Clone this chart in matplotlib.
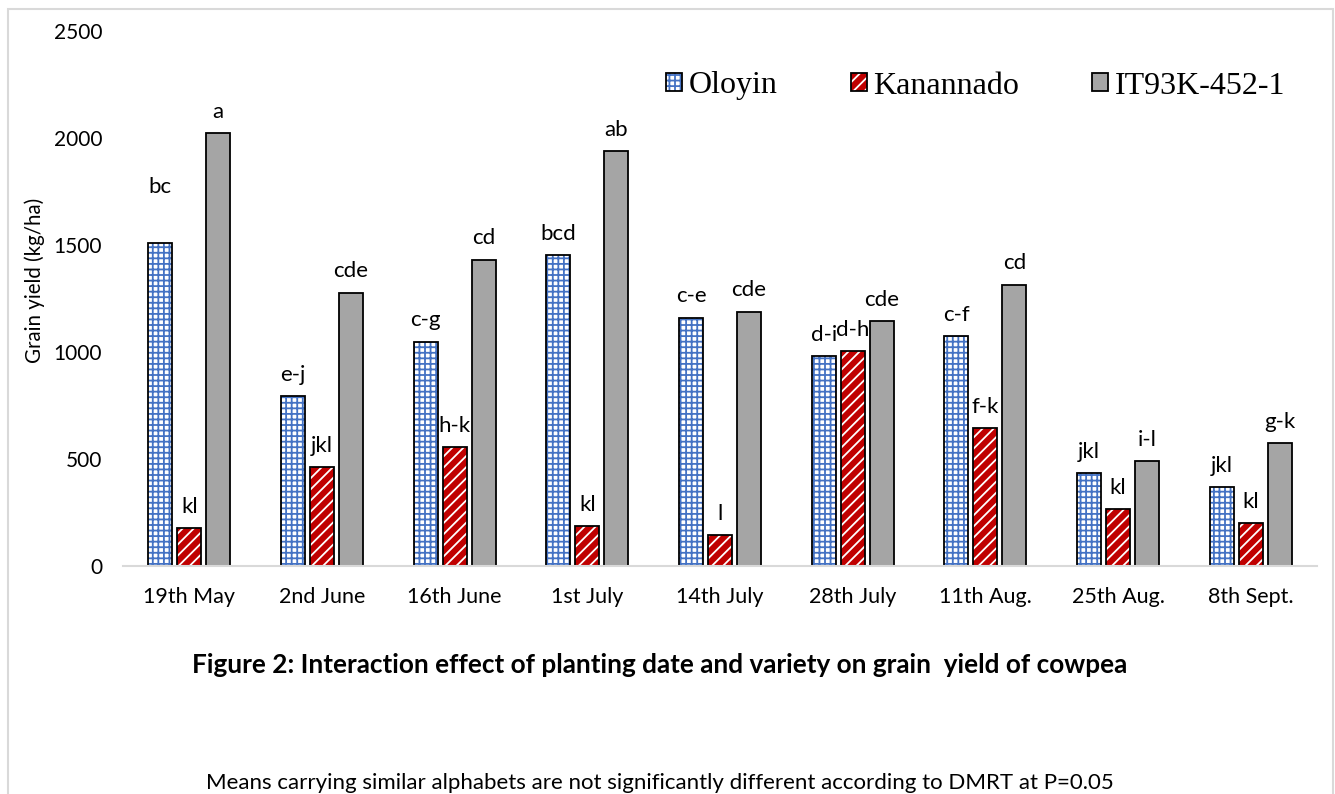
import matplotlib
matplotlib.use("Agg")
import matplotlib.pyplot as plt
import numpy as np
from matplotlib.patches import Rectangle
from matplotlib.legend_handler import HandlerTuple

categories = ["19th May", "2nd June", "16th June", "1st July", "14th July",
              "28th July", "11th Aug.", "25th Aug.", "8th Sept."]
series_names = ["Oloyin", "Kanannado", "IT93K-452-1"]
oloyin = [1511, 793, 1049, 1455, 1161, 979, 1073, 434, 368]
kanannado = [177, 462, 555, 187, 145, 1003, 644, 266, 200]
it93k = [2024, 1278, 1432, 1940, 1189, 1143, 1315, 490, 574]
letters_oloyin = ["bc", "e-j", "c-g", "bcd", "c-e", "d-i", "c-f", "jkl", "jkl"]
letters_kanannado = ["kl", "jkl", "h-k", "kl", "l", "d-h", "f-k", "kl", "kl"]
letters_it93k = ["a", "cde", "cd", "ab", "cde", "cde", "cd", "i-l", "g-k"]
y_ticks = [0, 500, 1000, 1500, 2000, 2500]

plt.rcParams['hatch.linewidth'] = 1.3
SANS = ['Lato', 'DejaVu Sans']
SERIF = ['Liberation Serif', 'DejaVu Serif']

fig = plt.figure(figsize=(13.35, 7.94), dpi=100)
W, H = 1335, 794
ax = fig.add_axes([123 / W, 1 - 566 / H, (1317 - 123) / W, (566 - 31) / H])

x = np.arange(len(categories))
step = 0.218
width = 0.18
blue = '#4472c4'
red = '#c00000'
grey = '#a5a5a5'

def draw(vals, offset, face, hatchcol, hatch):
    b1 = ax.bar(x + offset, vals, width, color=face, edgecolor=hatchcol,
                hatch=hatch, linewidth=0, zorder=2)
    b2 = ax.bar(x + offset, vals, width, facecolor='none', edgecolor='black',
                linewidth=1.3, zorder=3)
    return b1, b2

h1 = draw(oloyin, -step, 'white', blue, '+++')
h2 = draw(kanannado, 0, red, 'white', '///')
h3 = draw(it93k, step, grey, grey, None)

label_extra = {(0, 0): 25}
for si, (vals, labs, off) in enumerate([(oloyin, letters_oloyin, -step),
                                        (kanannado, letters_kanannado, 0),
                                        (it93k, letters_it93k, step)]):
    for i, (v, t) in enumerate(zip(vals, labs)):
        extra = label_extra.get((si, i), 0)
        ax.annotate(t, (x[i] + off, v), xytext=(0, 8 + extra),
                    textcoords='offset points', ha='center', va='bottom',
                    fontsize=16, family=SANS)

ax.set_xlim(-0.5, len(categories) - 0.5)
ax.set_ylim(0, 2500)
ax.set_yticks(y_ticks)
ax.set_yticklabels([str(t) for t in y_ticks], family=SANS, fontsize=15)
ax.set_xticks(x)
ax.set_xticklabels(categories, family=SANS, fontsize=15.5)
ax.tick_params(axis='y', length=0, pad=15)
ax.tick_params(axis='x', length=0, pad=15)
for s in ['top', 'right', 'left']:
    ax.spines[s].set_visible(False)
ax.spines['bottom'].set_color('#d9d9d9')
ax.spines['bottom'].set_linewidth(1.5)
ax.spines['bottom'].set_zorder(4)

fig.text(35 / W, 1 - 280 / H, "Grain yield (kg/ha)", rotation=90,
         ha='center', va='center', fontsize=14.8, family=SANS)

handles = [(h1[0][0], h1[1][0]), (h2[0][0], h2[1][0]), (h3[0][0], h3[1][0])]
leg = fig.legend(handles, series_names, loc='center left',
                 bbox_to_anchor=(650 / W, 1 - 86 / H), ncol=3, frameon=False,
                 handler_map={tuple: HandlerTuple(ndivide=1, pad=0)},
                 prop={'family': SERIF, 'size': 23}, handlelength=0.5,
                 handleheight=0.5, handletextpad=0.2, columnspacing=2.3,
                 borderpad=0)

fig.text(660 / W, 1 - 665 / H,
         "Figure 2: Interaction effect of planting date and variety on grain  yield of cowpea",
         ha='center', va='center', fontsize=18.8, fontweight='bold', family=SANS)
fig.text(660 / W, 1 - 783 / H,
         "Means carrying similar alphabets are not significantly different according to DMRT at P=0.05",
         ha='center', va='center', fontsize=16, family=SANS)

fig.patches.append(Rectangle((8 / W, 0 - 0.05), (1333 - 8) / W, (1 - 9 / H) + 0.05,
                             transform=fig.transFigure, facecolor='none',
                             edgecolor='#d9d9d9', linewidth=1.5, clip_on=False))

fig.savefig("out.png", dpi=100)
